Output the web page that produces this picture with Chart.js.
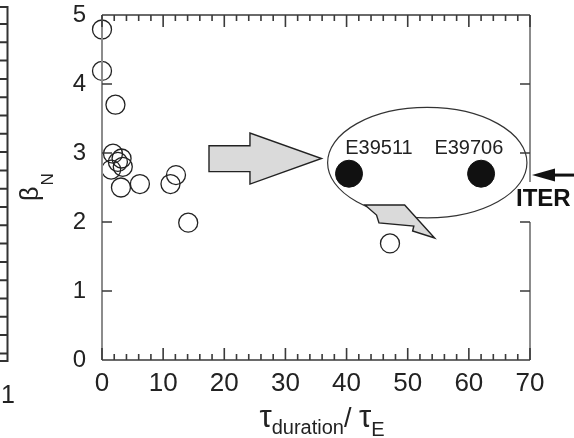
<!DOCTYPE html>
<html>
<head>
<meta charset="utf-8">
<script src="https://cdn.jsdelivr.net/npm/chart.js@4.4.1/dist/chart.umd.min.js"></script>
<style>
  html, body { margin: 0; padding: 0; background: #fff; }
  #aldcScatter { width: 574px; height: 438px; position: relative; }
</style>
</head>
<body>
<div id="aldcScatter"><canvas id="myChart"></canvas></div>
<script>
// define constants
const COLOR_TEXT = "#222";
const COLOR_AXIS = "#3a3a3a";
const COLOR_AXIS_SIDE = "#8c8c8c";
const COLOR_ARROW_FILL = "#dadada";
const FONT = "'Liberation Sans', Arial, Helvetica, sans-serif";

// tick labels
const xTicks = [0, 10, 20, 30, 40, 50, 60, 70];
const yTicks = [0, 1, 2, 3, 4, 5];

// open circles: database discharges
const openX = [0, 0, 2.2, 1.8, 3.2, 3.4, 1.5, 2.6, 3.1, 6.2, 11.2, 12.1, 14.1, 47.1];
const openY = [4.79, 4.19, 3.70, 2.99, 2.92, 2.80, 2.76, 2.87, 2.50, 2.55, 2.55, 2.68, 1.99, 1.69];

// filled circles: long pulses
const shotX = [40.4, 62.0];
const shotY = [2.70, 2.70];
const shotNames = ["E39511", "E39706"];
const shotLabelX = [45.3, 60.0];
const shotLabelY = [3.06, 3.06];

// ITER target
const iterBeta = 2.68;

// annotations, in data units
const ellipseX = 53.2, ellipseY = 2.86, ellipseRx = 16.3, ellipseRy = 0.80;
const bigArrowX = [17.5, 24.2, 24.2, 35.9, 24.2, 24.2, 17.5];
const bigArrowY = [3.105, 3.105, 3.29, 2.92, 2.55, 2.73, 2.73];
const boltX = [43.0, 49.5, 54.4, 50.8, 51.0, 45.3, 44.9];
const boltY = [2.246, 2.246, 1.768, 1.870, 1.942, 1.986, 2.101];

function polygon(ctx, xs, ys, sx, sy) {
  ctx.beginPath();
  xs.forEach((v, i) => {
    const px = sx.getPixelForValue(v), py = sy.getPixelForValue(ys[i]);
    if (i === 0) ctx.moveTo(px, py); else ctx.lineTo(px, py);
  });
  ctx.closePath();
  ctx.fillStyle = COLOR_ARROW_FILL;
  ctx.fill();
  ctx.strokeStyle = "#222";
  ctx.lineWidth = 1.4;
  ctx.stroke();
}

// ellipse and gray arrows behind the points
const annotations = {
  id: "annotations",
  beforeDatasetsDraw(chart) {
    const {ctx, scales: {x, y}} = chart;
    ctx.save();
    ctx.beginPath();
    ctx.ellipse(x.getPixelForValue(ellipseX), y.getPixelForValue(ellipseY),
      x.getPixelForValue(ellipseX + ellipseRx) - x.getPixelForValue(ellipseX),
      y.getPixelForValue(ellipseY) - y.getPixelForValue(ellipseY + ellipseRy), 0, 0, Math.PI * 2);
    ctx.strokeStyle = "#333";
    ctx.lineWidth = 1.2;
    ctx.stroke();
    polygon(ctx, bigArrowX, bigArrowY, x, y);
    polygon(ctx, boltX, boltY, x, y);
    ctx.restore();
  }
};

// frame, inward ticks, titles, labels
const frame = {
  id: "frame",
  afterDraw(chart) {
    const {ctx, chartArea: a, scales: {x, y}} = chart;
    ctx.save();
    ctx.lineCap = "butt";

    // left and right axes
    ctx.strokeStyle = COLOR_AXIS_SIDE;
    ctx.lineWidth = 2;
    ctx.beginPath();
    ctx.moveTo(a.left, a.top); ctx.lineTo(a.left, a.bottom);
    ctx.moveTo(a.right, a.top); ctx.lineTo(a.right, y.getPixelForValue(2.58));
    ctx.moveTo(a.right, y.getPixelForValue(2)); ctx.lineTo(a.right, a.bottom);
    ctx.stroke();

    // top and bottom axes
    ctx.strokeStyle = COLOR_AXIS;
    ctx.lineWidth = 1.6;
    ctx.beginPath();
    ctx.moveTo(a.left, a.top); ctx.lineTo(a.right, a.top);
    ctx.moveTo(a.left, a.bottom); ctx.lineTo(a.right, a.bottom);
    for (let v = 0; v <= 70; v += 2) {
      const px = x.getPixelForValue(v);
      const len = v % 10 === 0 ? 12 : 6;
      ctx.moveTo(px, a.bottom); ctx.lineTo(px, a.bottom - len);
      ctx.moveTo(px, a.top); ctx.lineTo(px, a.top + len);
    }
    yTicks.slice(1, -1).forEach(v => {
      const py = y.getPixelForValue(v);
      ctx.moveTo(a.left, py); ctx.lineTo(a.left + 10, py);
      ctx.moveTo(a.right, py); ctx.lineTo(a.right - 10, py);
    });
    ctx.stroke();

    // shot labels
    ctx.fillStyle = COLOR_TEXT;
    ctx.font = "20px " + FONT;
    ctx.textAlign = "center";
    ctx.textBaseline = "middle";
    shotNames.forEach((n, i) => {
      ctx.fillText(n, x.getPixelForValue(shotLabelX[i]), y.getPixelForValue(shotLabelY[i]));
    });

    // ITER arrow and label
    const iy = y.getPixelForValue(iterBeta);
    const tip = a.right + 2;
    ctx.fillStyle = "#111";
    ctx.beginPath();
    ctx.moveTo(tip, iy);
    ctx.lineTo(tip + 23, iy - 6.5);
    ctx.lineTo(tip + 23, iy + 6.5);
    ctx.closePath();
    ctx.fill();
    ctx.fillRect(tip + 20, iy - 1.5, chart.width - tip, 3);
    ctx.font = "bold 24px " + FONT;
    ctx.textAlign = "left";
    ctx.textBaseline = "alphabetic";
    ctx.fillText("ITER", a.right - 14, iy + 31);

    // y title: beta_N
    ctx.fillStyle = COLOR_TEXT;
    ctx.translate(38, 201);
    ctx.rotate(-Math.PI / 2);
    ctx.font = "25px " + FONT;
    ctx.fillText("\u03b2", 0, 0);
    const bw = ctx.measureText("\u03b2").width;
    ctx.font = "17px " + FONT;
    ctx.fillText("N", bw + 1, 15);
    ctx.setTransform(1, 0, 0, 1, 0, 0);

    // x title: tau_duration / tau_E
    const parts = [
      ["\u03c4", 31, 0], ["duration", 20, 7], ["/ ", 27, 0], ["\u03c4", 31, 0], ["E", 20, 9]
    ];
    let total = 0;
    parts.forEach(p => { ctx.font = p[1] + "px " + FONT; total += ctx.measureText(p[0]).width; });
    let cx = 322 - total / 2;
    parts.forEach(p => {
      ctx.font = p[1] + "px " + FONT;
      ctx.fillText(p[0], cx, 427 + p[2]);
      cx += ctx.measureText(p[0]).width;
    });

    // edge of the neighbouring panel
    ctx.strokeStyle = "#333";
    ctx.lineWidth = 2;
    ctx.beginPath();
    ctx.moveTo(0, 7); ctx.lineTo(7.5, 7); ctx.lineTo(7.5, 361); ctx.lineTo(0, 361);
    for (let py = 24; py < 358; py += 18.3) {
      ctx.moveTo(0, py); ctx.lineTo(7.5, py);
    }
    ctx.stroke();
    ctx.font = "25px " + FONT;
    ctx.textAlign = "center";
    ctx.textBaseline = "middle";
    ctx.fillText("1", 8, 396);
    ctx.restore();
  }
};

// build datasets from the arrays
let dataset_open = {
  label: "discharges",
  data: openX.map((v, i) => ({x: v, y: openY[i]})),
  pointStyle: "circle",
  pointRadius: 9.5,
  pointBorderWidth: 1.3,
  borderColor: "#222",
  backgroundColor: "rgba(0,0,0,0)",
  clip: false
};
let dataset_shots = {
  label: "long pulses",
  data: shotX.map((v, i) => ({x: v, y: shotY[i]})),
  pointStyle: "circle",
  pointRadius: 13.5,
  pointBorderWidth: 1,
  borderColor: "#111",
  backgroundColor: "#111",
  clip: false
};

var ctx = document.getElementById("myChart").getContext("2d");
var scatterChart = new Chart(ctx, {
  type: "scatter",
  data: {datasets: [dataset_open, dataset_shots]},
  plugins: [annotations, frame],
  options: {
    maintainAspectRatio: false,
    animation: false,
    events: [],
    layout: {autoPadding: false, padding: {top: 15, right: 44, left: 0, bottom: 0}},
    scales: {
      x: {
        type: "linear",
        min: xTicks[0],
        max: xTicks[xTicks.length - 1],
        // fixed axis sizes so the plot box lands where the reference has it
        afterFit: (s) => { s.height = 78; s.paddingLeft = 0; s.paddingRight = 0; },
        afterBuildTicks: (s) => { s.ticks = xTicks.map(v => ({value: v})); },
        grid: {display: false, drawTicks: false},
        border: {display: false},
        ticks: {color: COLOR_TEXT, padding: 8, font: {family: FONT, size: 26}, maxRotation: 0}
      },
      y: {
        type: "linear",
        min: yTicks[0],
        max: yTicks[yTicks.length - 1],
        afterFit: (s) => { s.width = 102; s.paddingTop = 0; s.paddingBottom = 0; },
        afterBuildTicks: (s) => { s.ticks = yTicks.map(v => ({value: v})); },
        grid: {display: false, drawTicks: false},
        border: {display: false},
        ticks: {color: COLOR_TEXT, padding: 16, font: {family: FONT, size: 24}}
      }
    },
    plugins: {legend: {display: false}, tooltip: {enabled: false}}
  }
});
</script>
</body>
</html>
